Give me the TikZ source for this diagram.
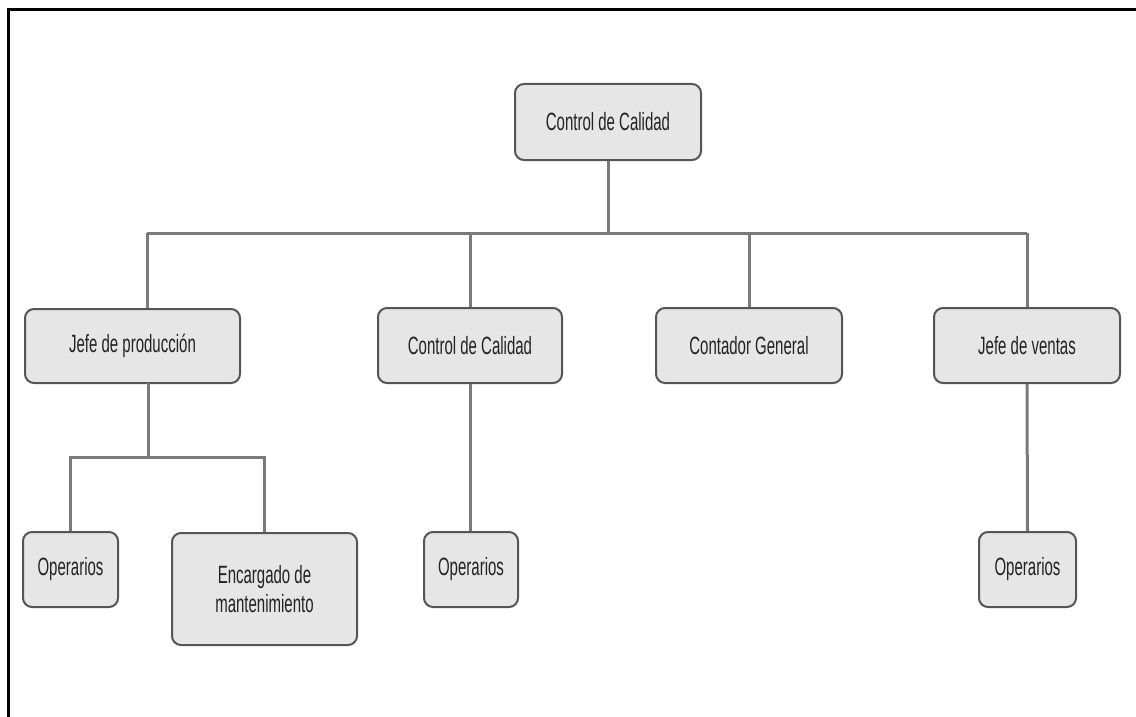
\documentclass[tikz,border=0pt]{standalone}
\usepackage{fontspec}
\setmainfont[FakeStretch=0.6]{Liberation Sans}
\usetikzlibrary{calc}
\definecolor{boxfill}{HTML}{E6E6E6}
\definecolor{boxline}{HTML}{555555}
\definecolor{linec}{HTML}{7A7A7A}
\definecolor{textc}{HTML}{222222}
\begin{document}
\begin{tikzpicture}[x=1pt,y=-1pt,
  orgbox/.style={draw=boxline, fill=boxfill, line width=2pt, rounded corners=9pt,
    inner sep=0pt, font=\fontsize{25}{29}\selectfont, text=textc, align=center},
  conn/.style={draw=linec, line width=3pt}]
\useasboundingbox (0,0) rectangle (1136,717);
% frame
\draw[line width=3pt] (8.5,717) -- (8.5,9.5) -- (1136,9.5);
% nodes
\node[orgbox, minimum width=186pt, minimum height=76pt] (top) at (608,122) {Control de Calidad};
\node[orgbox, minimum width=215pt, minimum height=74pt] (jp) at (132.5,346) {Jefe de producción};
\node[orgbox, minimum width=184pt, minimum height=75pt] (cc) at (470,345.5) {Control de Calidad};
\node[orgbox, minimum width=186pt, minimum height=75pt] (cg) at (749,345.5) {Contador General};
\node[orgbox, minimum width=186pt, minimum height=75pt] (jv) at (1027,345.5) {Jefe de ventas};
\node[orgbox, minimum width=95pt, minimum height=75pt] (op1) at (70.5,569.5) {Operarios};
\node[orgbox, minimum width=185pt, minimum height=112pt] (enc) at (264.5,589) {Encargado de\\mantenimiento};
\node[orgbox, minimum width=94pt, minimum height=75pt] (op2) at (471,569.5) {Operarios};
\node[orgbox, minimum width=97pt, minimum height=75pt] (op3) at (1027.5,569.5) {Operarios};
% bus coordinates
\coordinate (bus) at (608,233);
\coordinate (jpin) at (147,233);
\coordinate (jpout) at (148,383);
\coordinate (bus2) at (148,457);
% connectors
\begin{scope}[on background layer/.style={}]
\draw[conn] (top.south) -- (bus);
\draw[conn] (jpin) -- (jv.north |- bus);
\draw[conn] (jpin) -- (jpin |- jp.north);
\draw[conn] (cc.north |- bus) -- (cc.north);
\draw[conn] (cg.north |- bus) -- (cg.north);
\draw[conn] (jv.north |- bus) -- (jv.north);
\draw[conn] (jpout) -- (bus2);
\draw[conn] (bus2) -| (op1.north);
\draw[conn] (bus2) -| (enc.north);
\draw[conn] (cc.south) -- (cc.south |- op2.north);
\draw[conn] (jv.south) -- (op3.north);
\end{scope}
\end{tikzpicture}
\end{document}
